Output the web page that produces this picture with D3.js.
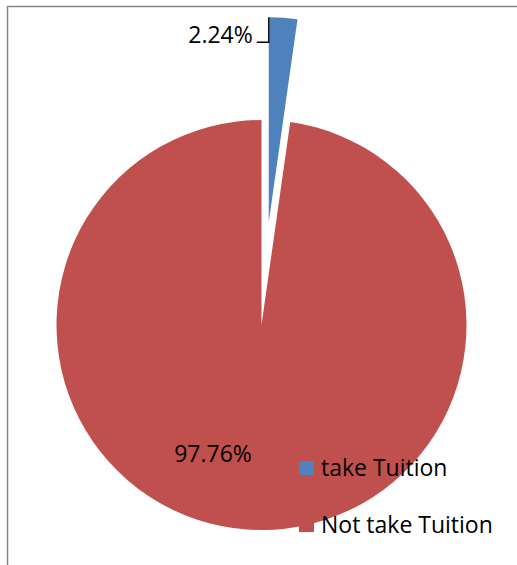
<!DOCTYPE html>
<html>
<head>
<meta charset="utf-8">
<script src="https://cdn.jsdelivr.net/npm/d3@7"></script>
<style>
  html, body { margin: 0; padding: 0; background: #fff; }
  svg { display: block; }
</style>
</head>
<body>
<div id="chart"></div>
<script>
// Tuition survey shares (percent)
const categories = ["take Tuition", "Not take Tuition"];
const values = [2.24, 97.76];
const labels = ["2.24%", "97.76%"];
const colors = ["#4F81BD", "#C0504D"];

const W = 517, H = 565;
const cx = 261.5, cy = 325, R = 205;
const explode = 103; // offset of the pulled-out slice
const font = "'Open Sans', 'Liberation Sans', Arial, sans-serif";

const svg = d3.select("#chart").append("svg")
  .attr("width", W).attr("height", H);

// chart frame (top and left edges)
svg.append("path")
  .attr("d", `M7.5,${H} L7.5,6.5 L${W},6.5`)
  .attr("fill", "none")
  .attr("stroke", "#868686")
  .attr("stroke-width", 1.5);

const pie = d3.pie().sort(null).value(d => d)(values);
const arc = d3.arc().innerRadius(0).outerRadius(R);
const color = d3.scaleOrdinal().domain(categories).range(colors);

const g = svg.append("g").attr("transform", `translate(${cx},${cy})`);

const offset = d => {
  if (d.index !== 0) return [0, 0];
  const mid = (d.startAngle + d.endAngle) / 2;
  return [explode * Math.sin(mid), -explode * Math.cos(mid)];
};

g.selectAll("path.slice")
  .data(pie)
  .join("path")
  .attr("class", "slice")
  .attr("d", arc)
  .attr("fill", (d, i) => color(categories[i]))
  .attr("transform", d => `translate(${offset(d)})`);

// label for the small slice, with leader line to its tip
const small = pie[0];
const [ox, oy] = offset(small);
const tipX = ox, tipY = oy - R;
const lineY = tipY + 25;
g.append("path")
  .attr("d", `M${tipX},${tipY} L${tipX},${lineY} L${tipX - 12},${lineY}`)
  .attr("fill", "none")
  .attr("stroke", "#000")
  .attr("stroke-width", 1.3);
g.append("text")
  .attr("x", tipX - 16)
  .attr("y", lineY + 0.5)
  .attr("text-anchor", "end")
  .attr("font-family", font)
  .attr("font-size", 23)
  .attr("fill", "#000")
  .text(labels[0]);

// label for the large slice
g.append("text")
  .attr("x", 213 - cx)
  .attr("y", 462 - cy)
  .attr("text-anchor", "middle")
  .attr("font-family", font)
  .attr("font-size", 23)
  .attr("fill", "#000")
  .text(labels[1]);

// legend
const legend = svg.append("g").attr("transform", "translate(299,461)");
const items = legend.selectAll("g")
  .data(categories)
  .join("g")
  .attr("transform", (d, i) => `translate(0,${i * 57})`);
items.append("rect")
  .attr("width", 15).attr("height", 14)
  .attr("fill", d => color(d));
items.append("text")
  .attr("x", 22)
  .attr("y", 14.7)
  .attr("font-family", font)
  .attr("font-size", 23)
  .attr("fill", "#000")
  .text(d => d);
</script>
</body>
</html>
